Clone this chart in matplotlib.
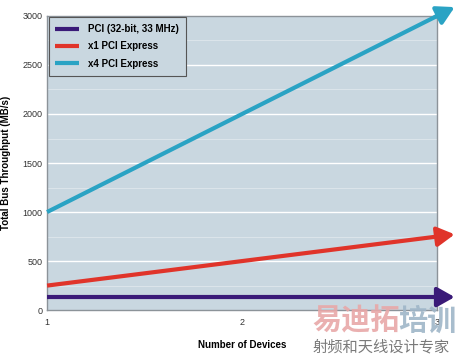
import matplotlib
matplotlib.use("Agg")
import matplotlib.pyplot as plt
import numpy as np

devices = [1, 2, 3]
pci = [133, 133, 133]
x1_pcie = [250, 500, 750]
x4_pcie = [1000, 2000, 3000]
series_names = ["PCI (32-bit, 33 MHz)", "x1 PCI Express", "x4 PCI Express"]
colors = ["#3a1a78", "#e0342a", "#2aa3c4"]
y_ticks = [0, 500, 1000, 1500, 2000, 2500, 3000]
x_ticks = [1, 2, 3]

plt.rcParams['font.family'] = ['Liberation Sans', 'Noto Sans CJK SC', 'DejaVu Sans']

fig = plt.figure(figsize=(4.66, 3.54), dpi=100)
ax = fig.add_axes([0.101, 0.124, 0.837, 0.831])
ax.set_facecolor("#c9d7e0")
ax.set_xlim(1, 3)
ax.set_ylim(0, 3000)

for v in np.arange(250, 3000, 250):
    if v % 500 == 0:
        ax.axhline(v, color="white", lw=1.0, zorder=1)
    else:
        ax.axhline(v, color="#dbe4ea", lw=0.8, zorder=1)

for data, c, name in zip([pci, x1_pcie, x4_pcie], colors, series_names):
    ax.plot(devices, data, color=c, lw=3.0, label=name, zorder=3, clip_on=False,
            solid_capstyle='butt')
    slope = data[-1] - data[-2]
    ext = 0.09
    ax.annotate("", xy=(devices[-1] + ext, data[-1] + slope * ext),
                xytext=(devices[-1] - 0.01, data[-1] - slope * 0.01),
                arrowprops=dict(arrowstyle='-|>,head_length=0.8,head_width=0.45',
                                color=c, lw=3.0, mutation_scale=13,
                                shrinkA=0, shrinkB=0),
                annotation_clip=False, zorder=4)

ax.set_yticks(y_ticks)
ax.set_xticks(x_ticks)
ax.tick_params(axis='both', length=0, labelsize=6.5, colors="#333333")
ax.tick_params(axis='x', pad=6)
for s in ax.spines.values():
    s.set_color("#8c9399")
    s.set_linewidth(1.0)

ax.set_ylabel("Total Bus Throughput (MB/s)", fontsize=7, fontweight='bold', labelpad=8)
ax.set_xlabel("Number of Devices", fontsize=7, fontweight='bold', labelpad=9)

leg = ax.legend(loc='upper left', prop={'weight': 'bold', 'size': 7},
                frameon=True, fancybox=False, borderaxespad=0.15,
                handlelength=2.4, labelspacing=0.75, borderpad=0.7,
                handletextpad=1.0)
leg.get_frame().set_edgecolor("#555555")
leg.get_frame().set_facecolor("#c9d7e0")
leg.get_frame().set_alpha(1)
leg.get_frame().set_linewidth(0.8)

fig.text(0.67, 0.068, "易迪拓", fontsize=21, color="#e8a8a8", fontweight='bold',
         family=['Noto Sans CJK SC'], alpha=0.9)
fig.text(0.855, 0.068, "培训", fontsize=21, color="#9fb6c8", fontweight='bold',
         family=['Noto Sans CJK SC'], alpha=0.9)
fig.text(0.67, 0.008, "射频和天线设计专家", fontsize=11, color="#7a7a7a",
         family=['Noto Sans CJK SC'])

fig.savefig("out.png", dpi=100)
